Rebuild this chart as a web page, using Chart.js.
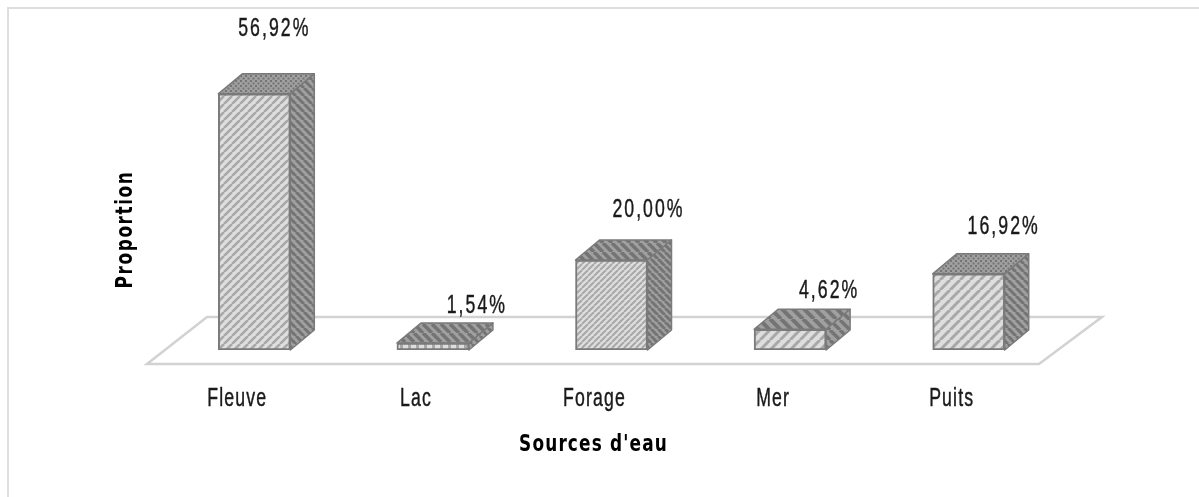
<!DOCTYPE html>
<html>
<head>
<meta charset="utf-8">
<style>html,body{margin:0;padding:0;background:#fff}canvas{display:block}</style>
<script src="https://cdn.jsdelivr.net/npm/chart.js@4"></script>
</head>
<body>
<canvas id="c" width="1199" height="497"></canvas>
<script>
const categories = ["Fleuve", "Lac", "Forage", "Mer", "Puits"];
const proportions = [56.92, 1.54, 20.00, 4.62, 16.92];
const valueLabels = ["56,92%", "1,54%", "20,00%", "4,62%", "16,92%"];
const xTitle = "Sources d'eau";
const yTitle = "Proportion";

const FONT = '"Liberation Sans", sans-serif';
const BOLD_FONT = '"DejaVu Sans", sans-serif';
const TEXT = '#1a1a1a';
const labelShift = [[20, 65], [44, 37], [37, 50], [39, 38], [35, 47]];
const DX = 24, DY = 20;

function stripes(bg, fg, size, lw, dir) {
  const p = document.createElement('canvas');
  p.width = p.height = size;
  const g = p.getContext('2d');
  g.fillStyle = bg; g.fillRect(0, 0, size, size);
  g.strokeStyle = fg; g.lineWidth = lw;
  for (let o = -size; o <= size; o += size) {
    g.beginPath();
    if (dir > 0) { g.moveTo(o, size); g.lineTo(o + size, 0); }
    else { g.moveTo(o, 0); g.lineTo(o + size, size); }
    g.stroke();
  }
  return g.createPattern(p, 'repeat');
}
function dots(bg, fg, size) {
  const p = document.createElement('canvas');
  p.width = p.height = size;
  const g = p.getContext('2d');
  g.fillStyle = bg; g.fillRect(0, 0, size, size);
  g.fillStyle = fg;
  g.fillRect(0, 0, 2, 2);
  g.fillRect(size / 2, size / 2, 2, 2);
  return g.createPattern(p, 'repeat');
}
function bricks(bg, fg, size) {
  const p = document.createElement('canvas');
  p.width = p.height = size;
  const g = p.getContext('2d');
  g.fillStyle = bg; g.fillRect(0, 0, size, size);
  g.fillStyle = fg;
  g.fillRect(0, 0, 3, size);
  return g.createPattern(p, 'repeat');
}
const LIGHT = '#dedede', MID = '#a8a8a8', DARK = '#747474', SIDE = '#a0a0a0';
const frontFaces = [
  stripes(LIGHT, MID, 8, 2.6, 1),
  bricks(LIGHT, MID, 8),
  stripes(LIGHT, MID, 6, 2, 1),
  stripes(LIGHT, MID, 10, 3, 1),
  stripes(LIGHT, MID, 10, 3, 1)
];
const sideFaces = [
  stripes(SIDE, DARK, 8, 3, -1),
  stripes(SIDE, DARK, 8, 3, -1),
  stripes(SIDE, DARK, 7, 3, -1),
  stripes(SIDE, DARK, 10, 3.4, -1),
  stripes(SIDE, DARK, 8, 3, -1)
];
const topFaces = [
  dots(SIDE, DARK, 5),
  stripes(SIDE, DARK, 9, 3.6, -1),
  stripes(SIDE, DARK, 9, 3.6, -1),
  stripes(SIDE, DARK, 11, 4, -1),
  dots(SIDE, DARK, 5)
];

const scene = {
  id: 'scene',
  beforeInit(chart) {
    const c = chart.ctx, fill = c.fillText.bind(c), stroke = c.strokeText.bind(c);
    c.fillText = function (s, x, y, m) {
      const bold = c.font.includes('bold');
      c.save();
      c.translate(x, y);
      c.scale(bold ? 0.72 : 0.68, 1);
      c.letterSpacing = bold ? (s === yTitle ? '2.2px' : '1.6px') : (c.valueText ? '3px' : '1.7px');
      fill(s, 0, 0, m);
      if (!bold) {
        c.strokeStyle = c.fillStyle;
        c.lineWidth = 0.45;
        stroke(s, 0, 0, m);
      }
      c.restore();
    };
  },
  beforeDraw(chart) {
    const c = chart.ctx;
    c.save();
    c.fillStyle = '#fff';
    c.fillRect(0, 0, chart.width, chart.height);
    c.strokeStyle = '#dedede'; c.lineWidth = 2;
    c.beginPath();
    c.moveTo(8, chart.height); c.lineTo(8, 8); c.lineTo(chart.width, 8);
    c.stroke();
    c.restore();
  },
  beforeDatasetsDraw(chart) {
    const c = chart.ctx, a = chart.chartArea, base = chart.scales.y.getPixelForValue(0);
    c.save();
    c.strokeStyle = '#d2d2d2'; c.lineWidth = 2.5; c.lineJoin = 'miter';
    c.beginPath();
    c.moveTo(a.left - 18, base + 14);
    c.lineTo(a.right - 19, base + 14);
    c.lineTo(a.right + 44, base - 33);
    c.lineTo(a.left + 42, base - 33);
    c.closePath();
    c.stroke();
    c.restore();
    chart.getDatasetMeta(0).data.forEach((b, i) => {
      const l = b.x - b.width / 2, r = b.x + b.width / 2, t = b.y, bt = b.base;
      c.save();
      c.strokeStyle = '#7a7a7a'; c.lineWidth = 1.5; c.lineJoin = 'round';
      c.fillStyle = topFaces[i];
      c.beginPath();
      c.moveTo(l, t); c.lineTo(l + DX, t - DY); c.lineTo(r + DX, t - DY); c.lineTo(r, t); c.closePath();
      c.fill(); c.stroke();
      c.fillStyle = sideFaces[i];
      c.beginPath();
      c.moveTo(r, t); c.lineTo(r + DX, t - DY); c.lineTo(r + DX, bt - DY); c.lineTo(r, bt); c.closePath();
      c.fill(); c.stroke();
      c.restore();
    });
  },
  afterDatasetsDraw(chart) {
    const c = chart.ctx;
    c.save();
    c.fillStyle = TEXT;
    c.font = '26px ' + FONT;
    c.textAlign = 'center'; c.textBaseline = 'middle';
    c.valueText = true;
    chart.getDatasetMeta(0).data.forEach((b, i) => {
      c.fillText(valueLabels[i], b.x + labelShift[i][0], b.y - labelShift[i][1]);
    });
    c.valueText = false;
    c.restore();
  }
};

function shiftTitle(s, dx, dy) {
  if (s.titleShifted) return;
  const draw = s.drawTitle;
  s.drawTitle = function () {
    this.ctx.save();
    this.ctx.translate(dx, dy);
    draw.call(this);
    this.ctx.restore();
  };
  s.titleShifted = true;
}

new Chart(document.getElementById('c'), {
  type: 'bar',
  data: {
    labels: categories,
    datasets: [{
      data: proportions,
      backgroundColor: frontFaces,
      borderColor: '#7a7a7a',
      borderWidth: 2,
      barThickness: 72,
      borderSkipped: false
    }]
  },
  plugins: [scene],
  options: {
    responsive: false,
    animation: false,
    layout: { padding: { left: 0, right: 141, top: 35, bottom: 0 } },
    plugins: { legend: { display: false }, tooltip: { enabled: false } },
    scales: {
      x: {
        grid: { display: false, drawTicks: false },
        border: { display: false },
        ticks: { color: TEXT, font: { family: FONT, size: 26 }, padding: 33, labelOffset: -17, maxRotation: 0 },
        title: { display: true, text: xTitle, color: '#000', font: { family: BOLD_FONT, size: 23.5, weight: 'bold' }, padding: { top: 4, bottom: 38 } },
        afterFit(s) { s.height = 147; shiftTitle(s, -18, 0); }
      },
      y: {
        min: 0, max: 70,
        grid: { display: false, drawTicks: false },
        border: { display: false },
        ticks: { display: false },
        title: { display: true, text: yTitle, color: '#000', font: { family: BOLD_FONT, size: 23.5, weight: 'bold' }, padding: { top: 112, bottom: 0 } },
        afterFit(s) { s.width = 165; shiftTitle(s, 0, 37); }
      }
    }
  }
});
</script>
</body>
</html>
